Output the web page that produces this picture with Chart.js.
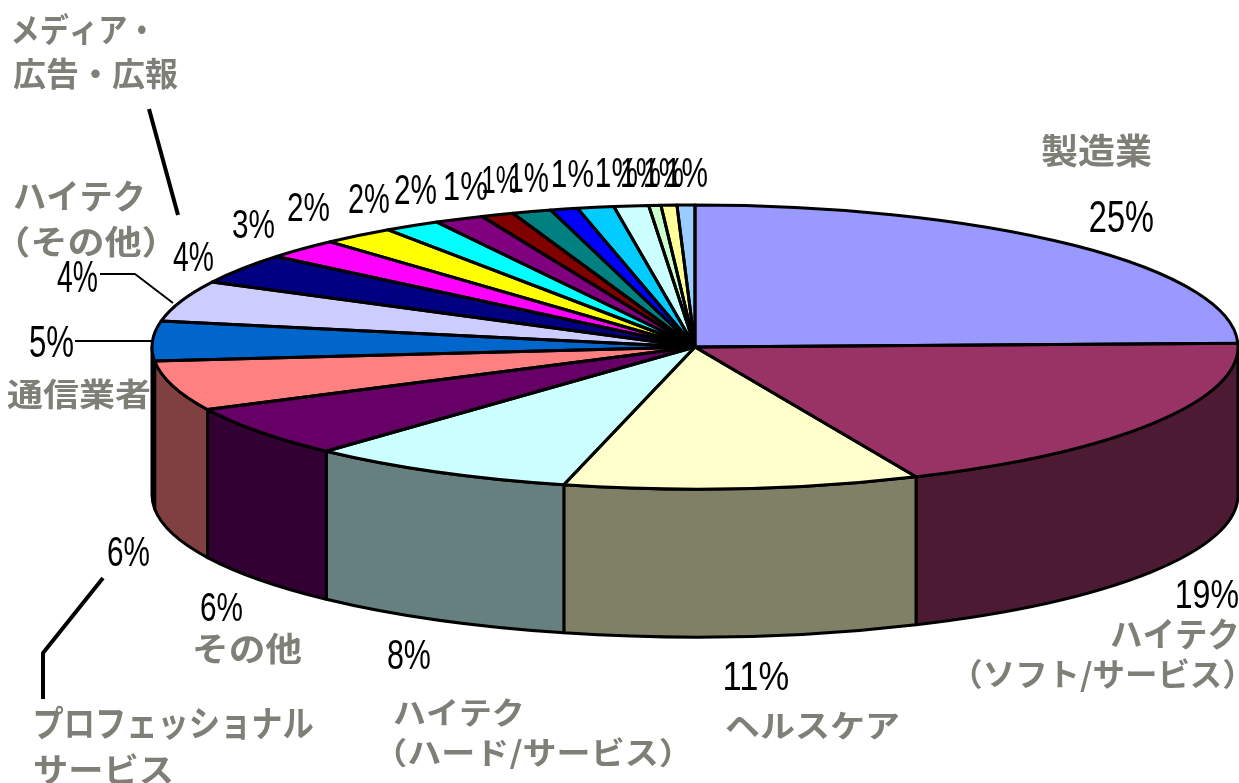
<!DOCTYPE html>
<html lang="ja">
<head>
<meta charset="utf-8">
<style>html,body{margin:0;padding:0;background:#fff}canvas{display:block}</style>
<script src="https://cdn.jsdelivr.net/npm/chart.js@4/dist/chart.umd.min.js"></script>
</head>
<body>
<canvas id="c" width="1239" height="783"></canvas>
<script>
const categories = ['製造業','ハイテク（ソフト/サービス）','ヘルスケア','ハイテク（ハード/サービス）','その他','プロフェッショナルサービス','通信業者','ハイテク（その他）','メディア・広告・広報','','','','','','','','','','','',''];
const values = [24.6,18.75,10.56,8.0,5.86,5.69,4.5,4.64,3.44,2.28,2.17,1.67,1.47,0.97,1.17,0.81,1.08,1.03,0.36,0.47,0.53];
const percentLabels = ['25%','19%','11%','8%','6%','6%','5%','4%','4%','3%','2%','2%','2%','1%','1%','1%','1%','1%','1%','1%','1%'];
const colors = ['#9999FF','#993366','#FFFFCC','#CCFFFF','#660066','#FF8080','#0066CC','#CCCCFF','#000080','#FF00FF','#FFFF00','#00FFFF','#800080','#800000','#008080','#0000FF','#00CCFF','#CCFFFF','#CCFFCC','#FFFF99','#99CCFF'];

// ink boxes [x0,x1,y0,y1] of each percent label
const percentBoxes = [[1090,1153,202,232],[1177,1238,580,608],[725,788,662,690],[388,430,640,669],[201,242,593,621],[108,149,537,566],[30,73,327,357],[57,97,262,292],[173,213,242,271],[233,274,210,238],[288,329,193,221],[349,389,184,213],[395,436,175,204],[445,487,172,200],[483,518,167,193],[510,548,163,192],[553,593,161,187],[597,637,158,187],[622,660,158,187],[645,683,158,187],[667,707,158,187]];
const nameLabels = [
 ['製造業',1042,1152,133,168],
 ['通信業者',7,150,378,410],
 ['その他',195,302,632,665],
 ['メディア・',13,146,12,45],
 ['広告・広報',13,178,57,90],
 ['ハイテク',14,143,180,212],
 ['（その他）',17,155,225,258],
 ['プロフェッショナル',35,313,705,740],
 ['サービス',35,172,753,785],
 ['ハイテク',1111,1237,618,650],
 ['（ソフト/サービス）',971,1234,658,692],
 ['ハイテク',394,522,698,727],
 ['（ハード/サービス）',395,671,737,770],
 ['ヘルスケア',726,899,712,740]
];
const leaders = [
 [4,[[149,109],[178,215]]],
 [2,[[100,274],[135,274],[173,303]]],
 [2,[[75,341],[153,341]]],
 [4,[[103,578],[43,653],[43,699]]]
];

const RX = 543, RY = 142, DEPTH = 148, BORDER = 3;
function darken(hex){
  const n = parseInt(hex.slice(1),16);
  const h = v => Math.round(v/2).toString(16).padStart(2,'0');
  return '#'+h(n>>16&255)+h(n>>8&255)+h(n&255);
}
function inkText(ctx,text,font,x0,x1,y0,y1){
  ctx.save();
  ctx.font = font;
  ctx.textAlign='left';ctx.textBaseline='alphabetic';
  const m = ctx.measureText(text);
  const l=-m.actualBoundingBoxLeft, r=m.actualBoundingBoxRight, t=-m.actualBoundingBoxAscent, b=m.actualBoundingBoxDescent;
  const sx=(x1-x0)/(r-l), sy=(y1-y0)/(b-t);
  ctx.translate(x0-l*sx,y0-t*sy);
  ctx.scale(sx,sy);
  ctx.fillText(text,0,0);
  ctx.restore();
}
const pie3d = {
  id:'pie3d',
  beforeDatasetsDraw(chart){
    const ctx = chart.ctx, arcs = chart.getDatasetMeta(0).data, c = arcs[0];
    ctx.save();
    ctx.lineWidth = BORDER; ctx.strokeStyle='#000'; ctx.lineJoin='round';
    arcs.forEach((a,i)=>{
      const s = Math.max(a.startAngle,0), e = Math.min(a.endAngle,Math.PI);
      if(e<=s) return;
      ctx.beginPath();
      ctx.ellipse(c.x,c.y,RX,RY,0,s,e);
      ctx.ellipse(c.x,c.y+DEPTH,RX,RY,0,e,s,true);
      ctx.closePath();
      ctx.fillStyle = darken(colors[i]);
      ctx.fill(); ctx.stroke();
    });
    ctx.restore();
    ctx.save();
    ctx.translate(c.x,c.y);
    ctx.scale(RX/c.outerRadius,RY/c.outerRadius);
    ctx.translate(-c.x,-c.y);
  },
  afterDatasetsDraw(chart){
    const ctx = chart.ctx, arcs = chart.getDatasetMeta(0).data;
    ctx.restore();
    ctx.save();
    ctx.lineWidth = BORDER; ctx.strokeStyle='#000'; ctx.lineJoin='round';
    arcs.forEach(a=>{
      ctx.beginPath();
      ctx.moveTo(a.x,a.y);
      ctx.ellipse(a.x,a.y,RX,RY,0,a.startAngle,a.endAngle);
      ctx.closePath();
      ctx.stroke();
    });
    ctx.lineCap='butt';
    leaders.forEach(([w,pts])=>{
      ctx.lineWidth=w;
      ctx.beginPath();
      pts.forEach((p,i)=>i?ctx.lineTo(p[0],p[1]):ctx.moveTo(p[0],p[1]));
      ctx.stroke();
    });
    ctx.fillStyle='#000';
    percentLabels.forEach((t,i)=>{
      const b=percentBoxes[i];
      inkText(ctx,t,'28px "Liberation Sans"',b[0],b[1],b[2],b[3]);
    });
    ctx.fillStyle='#7f7f78';
    nameLabels.forEach(n=>inkText(ctx,n[0],'700 36px "Noto Sans CJK JP"',n[1],n[2],n[3],n[4]));
    ctx.restore();
  }
};
const R = 300, CX = 695, CY = 347;
new Chart(document.getElementById('c'),{
  type:'pie',
  data:{labels:categories,datasets:[{data:values,backgroundColor:colors,borderWidth:0,clip:false}]},
  options:{
    responsive:false,animation:false,
    layout:{padding:{left:CX-R,right:1239-CX-R,top:CY-R,bottom:783-CY-R}},
    plugins:{legend:{display:false},tooltip:{enabled:false},title:{display:false}}
  },
  plugins:[pie3d]
});
</script>
</body>
</html>
